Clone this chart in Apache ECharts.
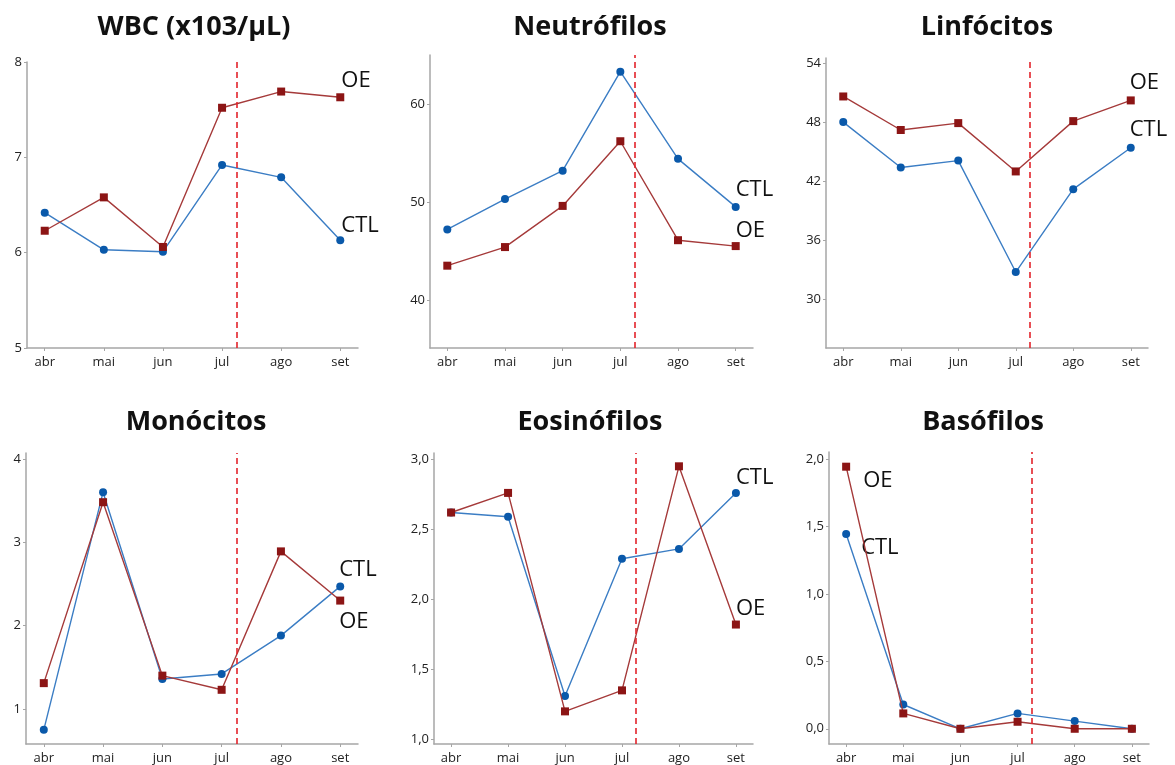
<!DOCTYPE html>
<html><head><meta charset="utf-8">
<script src="https://cdn.jsdelivr.net/npm/echarts@6/dist/echarts.min.js"></script>
<style>html,body{margin:0;padding:0;background:#fff}#c{width:1175px;height:765px}</style>
</head><body><div id="c"></div>
<script>
const months = ['abr','mai','jun','jul','ago','set'];
const cutoff = 3.25;

const titles = ['WBC (x103/µL)','Neutrófilos','Linfócitos','Monócitos','Eosinófilos','Basófilos'];

const wbcCTL = [6.42, 6.03, 6.01, 6.92, 6.79, 6.13];
const wbcOE  = [6.23, 6.58, 6.06, 7.52, 7.69, 7.63];
const neuCTL = [47.2, 50.3, 53.2, 63.3, 54.4, 49.5];
const neuOE  = [43.5, 45.4, 49.6, 56.2, 46.1, 45.5];
const linCTL = [48.0, 43.4, 44.1, 32.8, 41.2, 45.4];
const linOE  = [50.6, 47.2, 47.9, 43.0, 48.1, 50.2];
const monCTL = [0.75, 3.60, 1.36, 1.42, 1.88, 2.47];
const monOE  = [1.31, 3.48, 1.40, 1.23, 2.89, 2.30];
const eosCTL = [2.62, 2.59, 1.31, 2.29, 2.36, 2.76];
const eosOE  = [2.62, 2.76, 1.20, 1.35, 2.95, 1.82];
const basCTL = [1.445, 0.18, 0.0, 0.114, 0.057, 0.0];
const basOE  = [1.945, 0.114, 0.0, 0.052, 0.0, 0.0];

const wbcTicks = [5, 6, 7, 8];
const neuTicks = [40, 50, 60];
const linTicks = [30, 36, 42, 48, 54];
const monTicks = [1, 2, 3, 4];
const eosTicks = [1.0, 1.5, 2.0, 2.5, 3.0];
const basTicks = [0.0, 0.5, 1.0, 1.5, 2.0];

const panels = [
  {ctl: wbcCTL, oe: wbcOE, ticks: wbcTicks, dec: 0, min: 5, max: 8,
   grid: {left: 27, top: 62, width: 331, height: 286}, title: [189, 9],
   ctlLab: {i: 5, off: [1, -15]}, oeLab: {i: 5, off: [1, -17]}},
  {ctl: neuCTL, oe: neuOE, ticks: neuTicks, dec: 0, min: 35.1, max: 65,
   grid: {left: 430, top: 55, width: 323, height: 293}, title: [585, 9],
   ctlLab: {i: 5, off: [0, -17]}, oeLab: {i: 5, off: [0, -15]}},
  {ctl: linCTL, oe: linOE, ticks: linTicks, dec: 0, min: 25.1, max: 54.5,
   grid: {left: 826, top: 58, width: 322, height: 290}, title: [982, 9],
   ctlLab: {i: 5, off: [-1, -18]}, oeLab: {i: 5, off: [-1, -18]}},
  {ctl: monCTL, oe: monOE, ticks: monTicks, dec: 0, min: 0.58, max: 4.07,
   grid: {left: 26, top: 453, width: 332, height: 291}, title: [191, 404],
   ctlLab: {i: 5, off: [-1, -17]}, oeLab: {i: 5, off: [-1, 21]}},
  {ctl: eosCTL, oe: eosOE, ticks: eosTicks, dec: 1, min: 0.967, max: 3.045,
   grid: {left: 434, top: 453, width: 319, height: 291}, title: [585, 404],
   ctlLab: {i: 5, off: [0, -15]}, oeLab: {i: 5, off: [0, -16]}},
  {ctl: basCTL, oe: basOE, ticks: basTicks, dec: 1, min: -0.113, max: 2.054,
   grid: {left: 829, top: 452, width: 320, height: 292}, title: [978, 404],
   ctlLab: {i: 0, off: [15, 14]}, oeLab: {i: 0, off: [17, 14]}}
];

const FONT = '"Open Sans", "Noto Sans", sans-serif';
const axisCol = '#a6a6a6';
const ctlLine = '#3b7dc4', ctlMark = '#0a59aa';
const oeLine = '#a53a3a', oeMark = '#8c1515';

function fmt(v, dec) {
  return dec ? v.toFixed(dec).replace('.', ',') : String(Math.round(v));
}

function seriesData(vals, lab, text) {
  return vals.map((v, i) => {
    const d = {value: [i, v]};
    if (lab && lab.i === i) {
      d.label = {
        show: true, formatter: text, position: 'inside',
        align: 'left', verticalAlign: 'middle', offset: lab.off,
        fontFamily: FONT, fontSize: 22, color: '#111'
      };
    }
    return d;
  });
}

const option = {
  animation: false,
  backgroundColor: '#fff',
  title: [], grid: [], xAxis: [], yAxis: [], series: []
};

panels.forEach((p, k) => {
  option.title.push({
    text: titles[k], left: p.title[0], top: p.title[1], textAlign: 'center',
    textStyle: {fontFamily: FONT, fontWeight: 'bold', fontSize: 27, color: '#111'}
  });
  option.grid.push(Object.assign({containLabel: false}, p.grid));
  option.xAxis.push({
    type: 'value', gridIndex: k, min: -0.3, max: 5.3,
    splitLine: {show: false},
    axisLine: {show: true, onZero: false, lineStyle: {color: axisCol, width: 1.5}},
    axisTick: {show: true, length: 3, customValues: [0,1,2,3,4,5], lineStyle: {color: axisCol}},
    axisLabel: {customValues: [0,1,2,3,4,5], formatter: v => months[Math.round(v)],
      fontFamily: FONT, fontSize: 13, color: '#222', margin: 8}
  });
  option.yAxis.push({
    type: 'value', gridIndex: k, min: p.min, max: p.max,
    splitLine: {show: false},
    axisLine: {show: true, onZero: false, lineStyle: {color: axisCol, width: 1.5}},
    axisTick: {show: true, length: 3, customValues: p.ticks, lineStyle: {color: axisCol}},
    axisLabel: {customValues: p.ticks, formatter: v => fmt(v, p.dec),
      fontFamily: FONT, fontSize: 13, color: '#222', margin: 5}
  });
  option.series.push({
    type: 'line', name: 'CTL', xAxisIndex: k, yAxisIndex: k,
    data: seriesData(p.ctl, p.ctlLab, 'CTL'),
    symbol: 'circle', symbolSize: 8,
    lineStyle: {color: ctlLine, width: 1.4},
    itemStyle: {color: ctlMark},
    z: 3
  });
  option.series.push({
    type: 'line', name: 'OE', xAxisIndex: k, yAxisIndex: k,
    data: seriesData(p.oe, p.oeLab, 'OE'),
    symbol: 'rect', symbolSize: 8,
    lineStyle: {color: oeLine, width: 1.4},
    itemStyle: {color: oeMark},
    z: 4,
    markLine: {
      silent: true, symbol: 'none', label: {show: false},
      lineStyle: {color: '#e3242b', type: [6, 4], width: 1.6},
      data: [{xAxis: cutoff}]
    }
  });
});

const chart = echarts.init(document.getElementById('c'), null, {renderer: 'canvas'});
chart.setOption(option);
</script>
</body></html>
